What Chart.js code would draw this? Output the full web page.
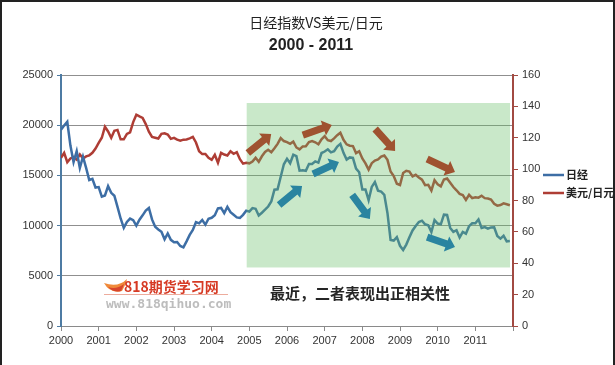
<!DOCTYPE html>
<html>
<head>
<meta charset="utf-8">
<script src="https://cdn.jsdelivr.net/npm/chart.js@4.4.1/dist/chart.umd.min.js"></script>
<style>
  body { margin: 0; background: #fff; }
  #wrap { position: relative; width: 615px; height: 365px; }
  #frame { position: absolute; left: 0; top: 0; width: 615px; height: 365px; box-sizing: border-box;
           border: 2px solid #222; border-bottom: none; pointer-events: none; }
</style>
</head>
<body>
<div id="wrap">
  <canvas id="chart" width="615" height="365"></canvas>
  <div id="frame"></div>
</div>
<script>
const years = [2000, 2001, 2002, 2003, 2004, 2005, 2006, 2007, 2008, 2009, 2010, 2011];

// monthly closes, Jan..Dec per row
const nikkei = [
  19540, 19960, 20340, 17970, 16330, 17410, 15730, 16860, 15750, 14540, 14650, 13790,
  13840, 12880, 13000, 13930, 13260, 12970, 11860, 10710, 9770, 10370, 10700, 10540,
  10000, 10590, 11020, 11490, 11760, 10620, 9880, 9620, 9380, 8640, 9220, 8580,
  8340, 8360, 7970, 7830, 8430, 9080, 9560, 10340, 10220, 10560, 10100, 10680,
  10780, 11040, 11720, 11760, 11240, 11860, 11330, 11080, 10820, 10770, 11070, 11490,
  11390, 11740, 11670, 11010, 11280, 11580, 11900, 12410, 13570, 13610, 14870, 16110,
  16650, 16210, 17060, 16910, 15470, 15510, 15460, 16140, 16130, 16400, 16270, 17230,
  17380, 17600, 17290, 17400, 17880, 18140, 17250, 16570, 16790, 16740, 15680, 15310,
  13590, 13600, 12530, 13850, 14340, 13480, 13380, 13070, 11260, 8580, 8510, 8860,
  7990, 7570, 8110, 8830, 9520, 9960, 10360, 10490, 10130, 10030, 9350, 10550,
  10200, 10130, 11090, 11060, 9770, 9380, 9540, 8820, 9370, 9200, 9940, 10230,
  10240, 10620, 9760, 9850, 9690, 9820, 9830, 8960, 8700, 8990, 8430, 8460
];

const usdjpy = [
  107.2, 110.3, 104.4, 106.8, 107.7, 106.1, 109.4, 106.7, 108.1, 108.8, 110.4, 113.1,
  116.7, 120.0, 127.0, 124.0, 120.0, 124.5, 125.0, 119.0, 119.0, 122.5, 123.5, 130.0,
  134.7, 133.6, 132.6, 128.7, 123.9, 120.5, 120.0, 119.5, 122.5, 122.8, 122.0, 119.3,
  119.9, 118.8, 118.1, 118.8, 118.9, 119.6, 120.5, 117.0, 111.4, 109.6, 109.6, 107.2,
  105.9, 109.1, 104.1, 110.4, 109.3, 108.7, 111.4, 109.8, 110.8, 106.3, 103.5, 104.1,
  103.7, 104.8, 107.2, 104.7, 108.2, 110.9, 112.3, 110.8, 113.3, 116.1, 119.8, 117.9,
  117.2, 116.1, 117.5, 113.8, 112.6, 114.5, 114.6, 117.3, 117.9, 117.1, 115.8, 119.0,
  121.0, 118.4, 117.9, 119.6, 121.6, 123.2, 118.7, 115.8, 114.9, 114.7, 110.2, 111.4,
  106.8, 103.7, 99.7, 103.8, 105.5, 106.2, 108.0, 108.7, 105.9, 98.5, 95.6, 90.7,
  89.9, 97.5, 98.9, 98.4, 95.4, 96.4, 94.7, 93.3, 89.8, 90.0, 86.4, 92.9,
  90.3, 89.0, 93.4, 94.0, 91.3, 88.6, 86.5, 84.2, 83.5, 80.4, 83.6, 81.5,
  82.1, 81.8, 83.0, 81.5, 81.3, 80.6, 77.9, 76.7, 77.1, 78.2, 77.6, 77.0
];

// shaded "recent" region, in axis units (year, nikkei)
const box = { x0: 2004.93, x1: 2011.92, y0: 5830, y1: 22210 };

// trend arrows, tail -> head, in axis units (year, nikkei)
const brownArrows = [
  [2004.96, 17230, 2005.58, 19120],
  [2006.42, 19020, 2007.19, 20020],
  [2008.34, 19620, 2008.87, 17430],
  [2009.72, 16630, 2010.46, 15340]
];
const blueArrows = [
  [2005.79, 12050, 2006.40, 13940],
  [2006.69, 15140, 2007.38, 16330],
  [2007.73, 13050, 2008.20, 10660],
  [2009.72, 8860, 2010.46, 7870]
];

const blueColour = "#3d6ea5";
const redColour = "#ae3d35";
const brownArrowColour = "#9f5230";
const blueArrowColour = "#2a84a0";

const toPoints = (values) =>
  values.map((v, i) => ({ x: years[Math.floor(i / 12)] + (i % 12) / 12, y: v }));

const drawArrow = (ctx, x0, y0, x1, y1, colour) => {
  const ang = Math.atan2(y1 - y0, x1 - x0);
  const len = Math.hypot(x1 - x0, y1 - y0);
  const shaft = 3.6, head = 8, headLen = 9;
  ctx.save();
  ctx.translate(x0, y0);
  ctx.rotate(ang);
  ctx.beginPath();
  ctx.moveTo(0, -shaft);
  ctx.lineTo(len - headLen, -shaft);
  ctx.lineTo(len - headLen, -head);
  ctx.lineTo(len, 0);
  ctx.lineTo(len - headLen, head);
  ctx.lineTo(len - headLen, shaft);
  ctx.lineTo(0, shaft);
  ctx.closePath();
  ctx.fillStyle = colour;
  ctx.fill();
  ctx.restore();
};

const decorations = {
  id: "decorations",
  afterDatasetsDraw(chart) {
    const { ctx, scales } = chart;
    const x = scales.x, y = scales.y;

    // translucent green overlay
    ctx.save();
    ctx.fillStyle = "rgba(100,190,100,0.35)";
    const bx0 = x.getPixelForValue(box.x0), bx1 = x.getPixelForValue(box.x1);
    const by0 = y.getPixelForValue(box.y0), by1 = y.getPixelForValue(box.y1);
    ctx.fillRect(bx0, by1, bx1 - bx0, by0 - by1);
    ctx.restore();

    brownArrows.forEach((a) => drawArrow(ctx, x.getPixelForValue(a[0]), y.getPixelForValue(a[1]),
      x.getPixelForValue(a[2]), y.getPixelForValue(a[3]), brownArrowColour));
    blueArrows.forEach((a) => drawArrow(ctx, x.getPixelForValue(a[0]), y.getPixelForValue(a[1]),
      x.getPixelForValue(a[2]), y.getPixelForValue(a[3]), blueArrowColour));
  },
  afterDraw(chart) {
    const { ctx } = chart;
    ctx.save();
    ctx.textBaseline = "middle";
    ctx.textAlign = "center";

    // titles
    ctx.fillStyle = "#222";
    ctx.font = "14px 'Noto Sans CJK SC'";
    ctx.fillText("日经指数VS美元/日元", 316, 23);
    ctx.font = "bold 16px 'Liberation Sans'";
    ctx.fillText("2000 - 2011", 311, 46);

    // note
    ctx.font = "bold 15px 'Noto Sans CJK SC'";
    ctx.fillStyle = "#262626";
    ctx.fillText("最近，二者表现出正相关性", 360, 293);

    // watermark
    ctx.textAlign = "left";
    ctx.fillStyle = "#f08a3a";
    ctx.beginPath();
    ctx.moveTo(104, 283);
    ctx.quadraticCurveTo(110, 294, 122, 291);
    ctx.quadraticCurveTo(126, 284, 127, 279);
    ctx.quadraticCurveTo(118, 288, 104, 283);
    ctx.fill();
    ctx.fillStyle = "#d8452c";
    ctx.beginPath();
    ctx.moveTo(108, 287);
    ctx.quadraticCurveTo(114, 293, 121, 291);
    ctx.quadraticCurveTo(123, 287, 124, 284);
    ctx.quadraticCurveTo(116, 290, 108, 287);
    ctx.fill();
    ctx.font = "bold 14px 'Noto Sans CJK SC'";
    ctx.fillStyle = "#d63a24";
    ctx.fillText("818期货学习网", 124, 287);
    ctx.fillStyle = "rgba(220,90,60,0.5)";
    ctx.fillRect(104, 294, 124, 1);
    ctx.font = "bold 13px 'DejaVu Sans Mono'";
    ctx.fillStyle = "#bdbdbd";
    ctx.fillText("www.818qihuo.com", 106, 305);

    // legend
    const legend = [["日经", blueColour, 175], ["美元/日元", redColour, 193]];
    ctx.font = "bold 11px 'Noto Sans CJK SC'";
    legend.forEach(([label, colour, ly]) => {
      ctx.strokeStyle = colour;
      ctx.lineWidth = 2.5;
      ctx.beginPath();
      ctx.moveTo(543, ly);
      ctx.lineTo(564, ly);
      ctx.stroke();
      ctx.fillStyle = "#222";
      ctx.fillText(label, 566, ly);
    });
    ctx.restore();
  }
};

const tickFont = { family: "'Liberation Sans', Arial", size: 11 };

window.addEventListener("load", () => {
  const canvas = document.getElementById("chart");
  new Chart(canvas, {
    type: "line",
    data: {
      datasets: [
        {
          label: "日经",
          data: toPoints(nikkei),
          yAxisID: "y",
          borderColor: blueColour,
          borderWidth: 2.5,
          pointRadius: 0,
          tension: 0,
        },
        {
          label: "美元/日元",
          data: toPoints(usdjpy),
          yAxisID: "y1",
          borderColor: redColour,
          borderWidth: 2.5,
          pointRadius: 0,
          tension: 0,
        },
      ],
    },
    options: {
      responsive: false,
      animation: false,
      layout: { padding: { top: 75, left: 0, right: 0, bottom: 9 } },
      plugins: {
        legend: { display: false },
        tooltip: { enabled: false },
      },
      scales: {
        x: {
          type: "linear",
          min: 2000,
          max: 2012,
          afterFit: (scale) => { scale.height = 30; },
          ticks: {
            stepSize: 1,
            maxRotation: 0,
            autoSkip: false,
            padding: 3,
            color: "#333",
            font: tickFont,
            callback: (v) => (v < 2012 ? String(v) : ""),
          },
          grid: { drawOnChartArea: false, tickLength: 5, color: "#8a8a8a" },
          border: { color: "#8a8a8a", width: 1 },
        },
        y: {
          position: "left",
          min: 0,
          max: 25000,
          afterFit: (scale) => { scale.width = 61; },
          ticks: {
            stepSize: 5000,
            padding: 4,
            color: "#333",
            font: tickFont,
            callback: (v) => String(v),
          },
          grid: { color: "#8f8f8f", lineWidth: 1, tickLength: 4, tickColor: "#4d7ba3" },
          border: { color: "#4d7ba3", width: 2 },
        },
        y1: {
          position: "right",
          min: 0,
          max: 160,
          afterFit: (scale) => { scale.width = 102; },
          ticks: {
            stepSize: 20,
            padding: 4,
            color: "#333",
            font: tickFont,
            callback: (v) => String(v),
          },
          grid: { drawOnChartArea: false, tickLength: 5, tickColor: "#a24a42" },
          border: { color: "#a24a42", width: 2 },
        },
      },
    },
    plugins: [decorations],
  });
});
</script>
</body>
</html>
